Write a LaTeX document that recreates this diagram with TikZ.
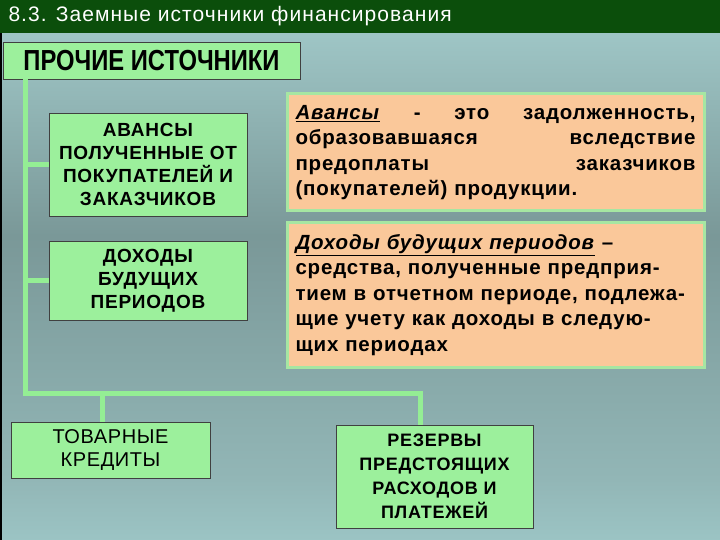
\documentclass[tikz,border=0pt]{standalone}
\usepackage{fontspec}
\setmainfont{Liberation Sans}
\newfontfamily\narrowfont[FakeStretch=0.82]{Liberation Sans}
\newfontfamily\titlefont[LetterSpace=5]{Liberation Sans}
\newfontfamily\deffont[LetterSpace=4]{Liberation Sans}
\newfontfamily\boxfont[LetterSpace=4]{Liberation Sans}
\newfontfamily\plainfont[LetterSpace=3]{Liberation Sans}
\usepackage{xcolor}
\usetikzlibrary{positioning}

\definecolor{titlegreen}{HTML}{0B4E0B}
\definecolor{boxgreen}{HTML}{9CF09C}
\definecolor{linegreen}{HTML}{94EE94}
\definecolor{peach}{HTML}{FAC89A}
\definecolor{peachframe}{HTML}{A6E6A2}
\definecolor{bgtop}{HTML}{C4F6F6}
\definecolor{bgupper}{HTML}{A2CACA}
\definecolor{bgdark}{HTML}{7A9898}
\definecolor{bglower}{HTML}{92B6B6}
\definecolor{bgbottom}{HTML}{C2FEFE}
\pgfdeclareverticalshading{backfill}{100bp}{color(0bp)=(bgbottom); color(31bp)=(bglower); color(55bp)=(bgdark); color(77bp)=(bgupper); color(100bp)=(bgtop)}

\begin{document}
\begin{tikzpicture}[x=1pt,y=-1pt,
  greenbox/.style={draw=black!75, line width=0.8pt, fill=boxgreen, align=center, inner sep=0pt},
  defbox/.style={draw=peachframe, line width=3pt, fill=peach, align=left, inner sep=0pt,
    text width=400pt, minimum width=417pt, font=\deffont\bfseries\fontsize{20.5}{25.5}\selectfont},
  link/.style={draw=linegreen, line width=5pt}]
\useasboundingbox (0,0) rectangle (720,540);
% background and title bar
\shade[shading=backfill] (0,33) rectangle (720,540);
\fill[titlegreen] (0,0) rectangle (720,33);
\draw[black, line width=2pt] (1,33) -- (1,540);
\node[anchor=west, text=white, font=\titlefont\fontsize{21}{22}\selectfont] (title) at (5,16) {8.3. Заемные источники финансирования};

% left column
\node[greenbox, minimum width=297pt, minimum height=37pt, font=\narrowfont\bfseries\fontsize{29}{30}\selectfont] (prochie) at (151.5,60.5) {ПРОЧИЕ ИСТОЧНИКИ};
\node[greenbox, minimum width=198pt, minimum height=103pt, font=\boxfont\bfseries\fontsize{19}{23}\selectfont] (avansy) at (148,164.5) {АВАНСЫ\\ПОЛУЧЕННЫЕ ОТ\\ПОКУПАТЕЛЕЙ И\\ЗАКАЗЧИКОВ};
\node[greenbox, minimum width=198pt, minimum height=79pt, font=\boxfont\bfseries\fontsize{19}{23}\selectfont] (dohody) at (148,280.5) {ДОХОДЫ\\БУДУЩИХ\\ПЕРИОДОВ};

% definitions
\node[defbox, minimum height=117pt] (defavansy) at (495.5,152.5) {\underline{\textit{Авансы}}\hfill-\hfill это\hfill задолженность,\\образовавшаяся\hfill вследствие\\предоплаты\hfill заказчиков\\(покупателей) продукции.};
\node[defbox, minimum height=144pt] (defdohody) at (495.5,295) {\underline{\textit{Доходы будущих периодов}} –\\средства, полученные предприя-\\тием в отчетном периоде, подлежа-\\щие учету как доходы в следую-\\щих периодах};

% bottom row
\node[greenbox, minimum width=199pt, minimum height=56pt, font=\plainfont\fontsize{20}{23.5}\selectfont] (tovar) at (110.5,450) {ТОВАРНЫЕ\\КРЕДИТЫ};
\node[greenbox, minimum width=197pt, minimum height=103pt, font=\boxfont\bfseries\fontsize{18}{24}\selectfont] (rezervy) at (434.5,476.5) {РЕЗЕРВЫ\\ПРЕДСТОЯЩИХ\\РАСХОДОВ И\\ПЛАТЕЖЕЙ};

% connectors
\coordinate (turn) at (25,393);
\draw[link] (prochie.south -| turn) -- (turn) -| ([xshift=-14pt]rezervy.north);
\draw[link] (avansy.west -| turn) -- (avansy.west);
\draw[link] (dohody.west -| turn) -- (dohody.west);
\draw[link] ([xshift=-8pt]tovar.north |- turn) -- ([xshift=-8pt]tovar.north);
\end{tikzpicture}
\end{document}
